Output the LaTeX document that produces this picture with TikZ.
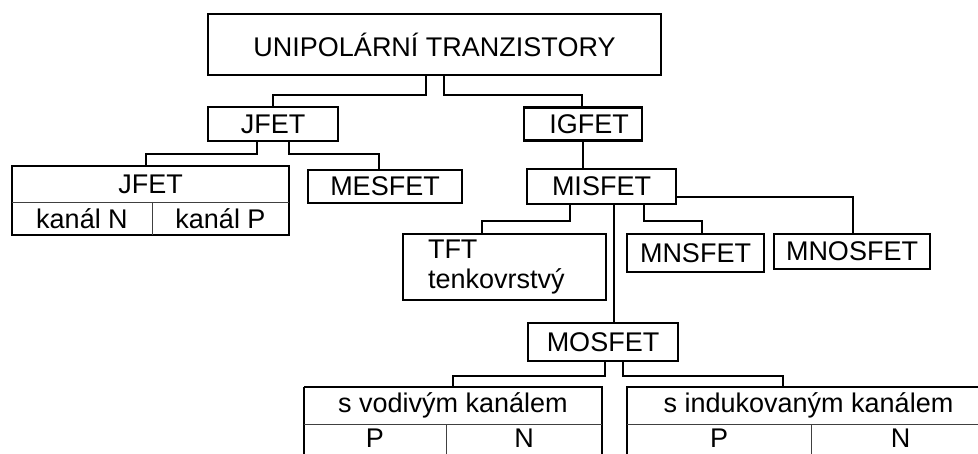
\documentclass[tikz,border=0pt]{standalone}
\usepackage{fontspec}
\setmainfont{Liberation Sans}
\tikzset{
  box/.style={draw, line width=2.2pt, inner sep=0pt, font=\fontsize{27}{30}\selectfont},
  cell/.style={draw=none, inner sep=0pt, font=\fontsize{27}{30}\selectfont},
  link/.style={line width=2.2pt},
  divider/.style={line width=1.2pt, black!75},
}

\begin{document}
\begin{tikzpicture}[x=1pt, y=-1pt]
    \useasboundingbox (0,0) rectangle (978,453);
    \clip (0,0) rectangle (978,453);

    \node (top) [box, minimum width=453pt, minimum height=61pt] at (434.5,44.5) {UNIPOLÁRNÍ TRANZISTORY};

    \node (jfet) [box, minimum width=130pt, minimum height=34pt] at (273,124) {JFET};
    \node (igfet) [box, minimum width=118pt, minimum height=33pt] at (583,124) {\hspace*{12pt}IGFET};

    % JFET table
    \node (jhead) [cell, minimum width=277pt, minimum height=36pt] at (150.5,184) {JFET};
    \node (jN) [cell, minimum width=140pt, minimum height=33pt] at (82,218.5) {kanál N};
    \node (jP) [cell, minimum width=137pt, minimum height=33pt] at (220.5,218.5) {kanál P};
    \draw[link] (jhead.north west) rectangle (jP.south east);
    \draw[divider] (jhead.south west) -- (jhead.south east);
    \draw[divider] (jN.north east) -- (jN.south east);

    \node (mesfet) [box, minimum width=154pt, minimum height=33pt] at (385,186.5) {MESFET};
    \node (misfet) [box, minimum width=149pt, minimum height=35pt] at (601.5,186.5) {MISFET};

    \node (tft) [box, minimum height=66pt, text width=153pt, inner xsep=25pt, align=left] at (504.5,267) {TFT\\tenkovrstvý};
    \node (mnsfet) [box, minimum width=137pt, minimum height=38pt] at (695.5,253) {MNSFET};
    \node (mnosfet) [box, minimum width=156pt, minimum height=35pt] at (852,251.5) {MNOSFET};
    \node (mosfet) [box, minimum width=150pt, minimum height=38pt] at (603,342) {MOSFET};

    % MOSFET tables
    \node (vhead) [cell, minimum width=298pt, minimum height=37pt] at (453,405.5) {s vodivým kanálem};
    \node (vP) [cell, minimum width=142pt, minimum height=26pt] at (375,438) {P};
    \node (vN) [cell, minimum width=156pt, minimum height=26pt] at (524,438) {N};
    \draw[link] (vhead.north west) -- (vhead.north east) -- ++(0,80) (vhead.north west) -- ++(0,80);
    \draw[divider] (vhead.south west) -- (vhead.south east);
    \draw[divider] (vP.north east) -- ++(0,50);

    \node (ihead) [cell, minimum width=363pt, minimum height=37pt] at (808.5,405.5) {s indukovaným kanálem};
    \node (iP) [cell, minimum width=184pt, minimum height=26pt] at (719,438) {P};
    \node (iN) [cell, minimum width=179pt, minimum height=26pt] at (900.5,438) {N};
    \draw[link] (ihead.north east) -- (ihead.north west) -- ++(0,80);
    \draw[divider] (ihead.south west) -- (ihead.south east);
    \draw[divider] (iP.north east) -- ++(0,50);

    % connectors
    \draw[link] ([xshift=-8.5pt]top.south) -- ++(0,19) -| (jfet.north);
    \draw[link] ([xshift=9.5pt]top.south) -- ++(0,19) -| ([xshift=-1pt]igfet.north);
    \draw[link] (igfet.south) -- (igfet.south |- misfet.north);
    \draw[link] ([xshift=-16pt]jfet.south) -- ++(0,12) -| ([xshift=-4.5pt]jhead.north);
    \draw[link] ([xshift=16pt]jfet.south) -- ++(0,12) -| ([xshift=-6pt]mesfet.north);
    \draw[link] ([xshift=-31.5pt]misfet.south) -- ++(0,16) -| ([xshift=-22.5pt]tft.north);
    \draw[link] ([xshift=12.5pt]misfet.south) -- ([xshift=12.5pt]misfet.south |- mosfet.north);
    \draw[link] ([xshift=42.5pt]misfet.south) -- ++(0,16) -| ([xshift=6.5pt]mnsfet.north);
    \draw[link] ([yshift=-10.5pt]misfet.east) -| ([xshift=1pt]mnosfet.north);
    \draw[link] ([xshift=2pt]mosfet.south) -- ++(0,14) -| (vhead.north);
    \draw[link] ([xshift=20pt]mosfet.south) -- ++(0,14) -| ([xshift=-25.5pt]ihead.north);
\end{tikzpicture}
\end{document}
